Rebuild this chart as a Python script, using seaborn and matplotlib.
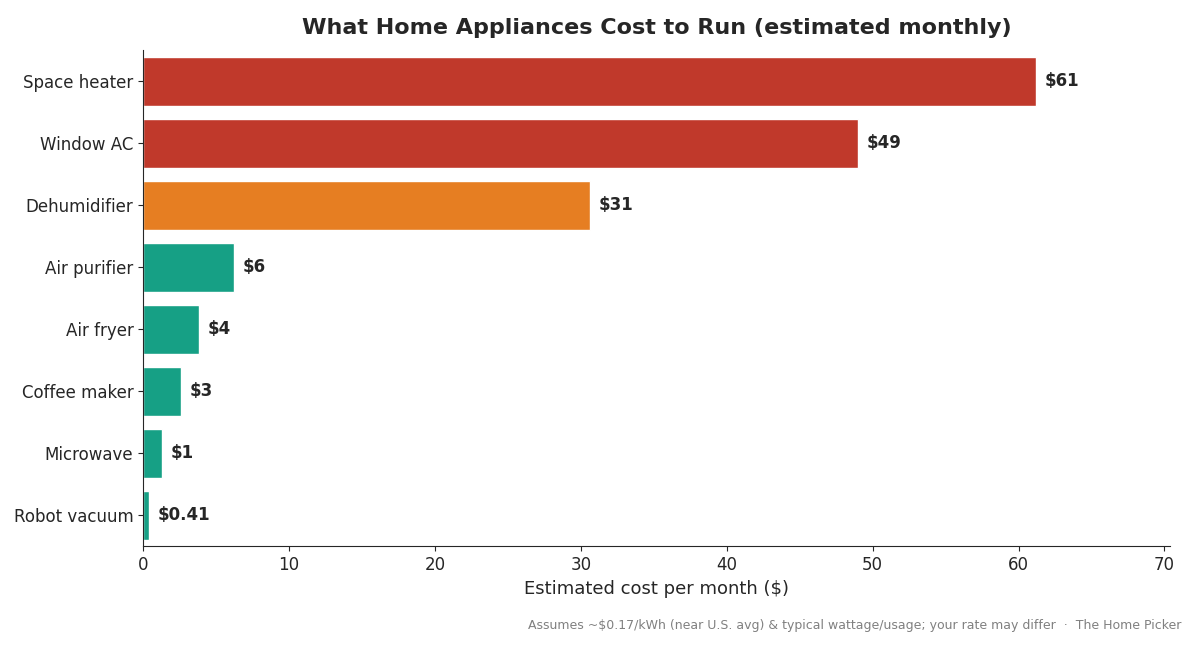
import matplotlib
matplotlib.use("Agg")
import matplotlib.pyplot as plt
import pandas as pd
import seaborn as sns

# Data
appliances = ["Space heater", "Window AC", "Dehumidifier", "Air purifier",
              "Air fryer", "Coffee maker", "Microwave", "Robot vacuum"]
monthly_cost = [61.2, 49.0, 30.6, 6.2, 3.85, 2.6, 1.3, 0.41]
bar_colors = ["#C0392B", "#C0392B", "#E67E22", "#16A085",
              "#16A085", "#16A085", "#16A085", "#16A085"]

df = pd.DataFrame({"Appliance": appliances, "Cost": monthly_cost})

sns.set_style("ticks")
fig, ax = plt.subplots(figsize=(11.93, 6.45), dpi=100)
fig.subplots_adjust(left=0.12, right=0.981, top=0.922, bottom=0.153)

sns.barplot(data=df, x="Cost", y="Appliance", hue="Appliance",
            palette=bar_colors, legend=False, width=0.8, saturation=1, ax=ax)

for patch, v in zip(ax.patches, monthly_cost):
    label = f"${v:.0f}" if v >= 1 else f"${v:.2f}"
    ax.text(patch.get_width() + 0.6, patch.get_y() + patch.get_height() / 2,
            label, va="center", ha="left", fontsize=12, fontweight="bold")

ax.set_xlim(0, 70.4)
ax.set_xticks(range(0, 71, 10))
ax.tick_params(labelsize=12)
ax.set_xlabel("Estimated cost per month ($)", fontsize=13)
ax.set_ylabel("")
ax.set_title("What Home Appliances Cost to Run (estimated monthly)",
             fontsize=16, fontweight="bold", pad=12)
sns.despine(ax=ax)

fig.text(0.99, 0.03,
         "Assumes ~$0.17/kWh (near U.S. avg) & typical wattage/usage; your rate may differ  \u00b7  The Home Picker",
         ha="right", va="center", fontsize=9, color="gray")

fig.savefig("out.png", dpi=100)
